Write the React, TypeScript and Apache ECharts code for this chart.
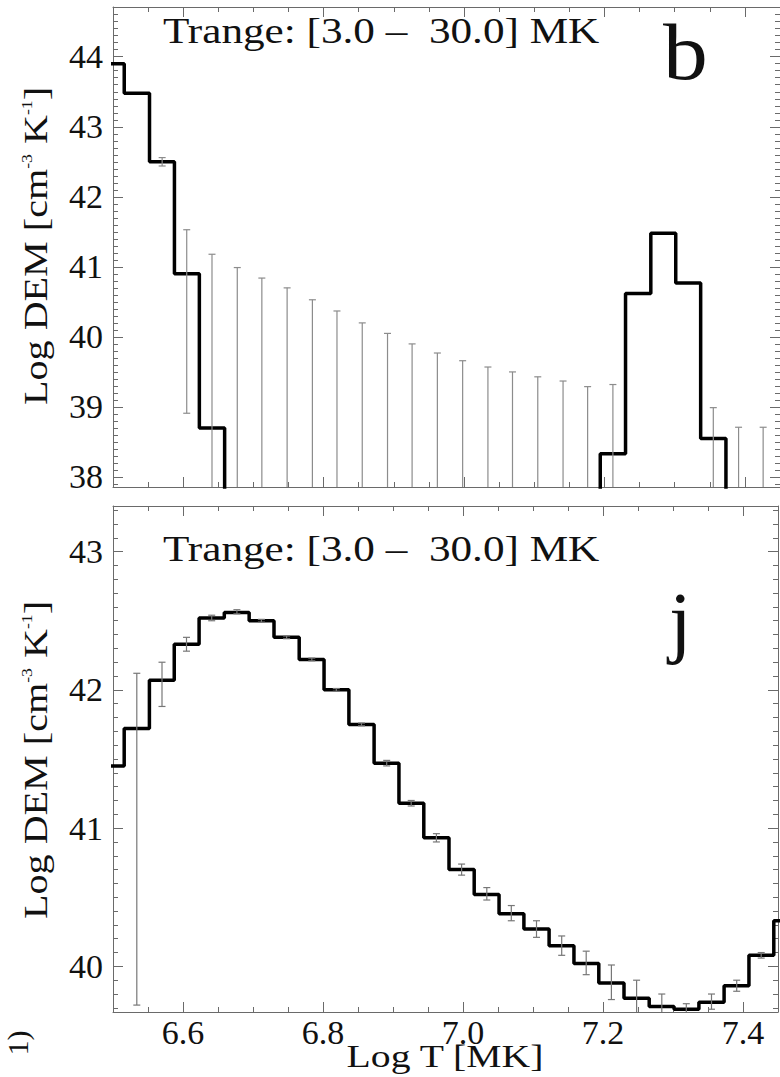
import React, { useEffect, useRef } from "react";
import * as echarts from "echarts";

// Bin centres in log T (shared by both panels)
const binCenters = [
  6.498, 6.534, 6.57, 6.605, 6.641, 6.677, 6.712, 6.748, 6.784, 6.819,
  6.855, 6.891, 6.926, 6.962, 6.998, 7.034, 7.069, 7.105, 7.141, 7.176,
  7.212, 7.248, 7.284, 7.319, 7.355, 7.391, 7.426, 7.462,
];

// Panel b : log DEM (values of 30 lie far below the plotted range)
const demB = [
  43.9, 43.48, 42.5, 40.9, 38.7, 30, 30, 30, 30, 30,
  30, 30, 30, 30, 30, 30, 30, 30, 30, 30,
  38.33, 40.62, 41.48, 40.77, 38.55, 30, 30, 30,
];
const errLowB = [
  null, null, 42.44, 38.91, 30, 30, 30, 30, 30, 30,
  30, 30, 30, 30, 30, 30, 30, 30, 30, 30,
  30, null, null, null, 30, 30, 30, null,
];
const errHighB = [
  null, null, 42.56, 41.53, 41.18, 40.99, 40.84, 40.7, 40.53, 40.37,
  40.2, 40.05, 39.9, 39.77, 39.66, 39.57, 39.5, 39.43, 39.37, 39.29,
  39.32, null, null, null, 38.99, 38.71, 38.71, null,
];

// Panel j : log DEM
const demJ = [
  41.45, 41.72, 42.07, 42.33, 42.52, 42.56, 42.5, 42.38, 42.22, 42.0,
  41.75, 41.47, 41.18, 40.93, 40.7, 40.52, 40.38, 40.27, 40.15, 40.02,
  39.88, 39.77, 39.71, 39.69, 39.74, 39.86, 40.08, 40.33,
];
const errLowJ = [
  null, 39.72, 41.88, 42.28, 42.5, 42.55, 42.49, 42.37, 42.21, 41.99,
  41.74, 41.45, 41.16, 40.9, 40.66, 40.48, 40.33, 40.21, 40.08, 39.94,
  39.76, 39.66, 39.64, 39.66, 39.69, 39.82, 40.06, null,
];
const errHighJ = [
  null, 42.12, 42.2, 42.38, 42.54, 42.58, 42.51, 42.39, 42.23, 42.01,
  41.76, 41.49, 41.2, 40.96, 40.74, 40.57, 40.44, 40.33, 40.22, 40.11,
  40.01, 39.9, 39.8, 39.73, 39.8, 39.9, 40.1, null,
];

const xRange = [6.5, 7.45];
const yRangeB = [37.857, 44.71];
const yRangeJ = [39.67, 43.33];

const titleText = "Trange: [3.0 \u2013 \u00a030.0] MK";
const yTitle = "Log DEM [cm{sup|-3} K{sup|-1}]";
const xTitle = "Log T [MK]";

const FONT = "Liberation Serif";

function stepPoints(centers: number[], vals: number[]) {
  const n = centers.length;
  const edges: number[] = [];
  edges.push(centers[0] - (centers[1] - centers[0]) / 2);
  for (let i = 1; i < n; i++) edges.push((centers[i - 1] + centers[i]) / 2);
  edges.push(centers[n - 1] + (centers[n - 1] - centers[n - 2]) / 2);
  const pts: number[][] = [];
  for (let i = 0; i < n; i++) pts.push([edges[i], vals[i]]);
  pts.push([edges[n], vals[n - 1]]);
  return pts;
}

function errPoints(centers: number[], lo: (number | null)[], hi: (number | null)[]) {
  const out: number[][] = [];
  for (let i = 0; i < centers.length; i++) {
    if (lo[i] != null && hi[i] != null) out.push([centers[i], lo[i] as number, hi[i] as number]);
  }
  return out;
}

function makeErrRender(color: string) {
  return (params: any, api: any) => {
    const x = api.value(0);
    const lo = api.value(1);
    const hi = api.value(2);
    const cs = params.coordSys;
    const pLo = api.coord([x, lo]);
    const pHi = api.coord([x, hi]);
    const top = cs.y;
    const bottom = cs.y + cs.height;
    const px = pLo[0];
    if (px < cs.x || px > cs.x + cs.width) return null;
    const y1 = Math.max(top, Math.min(bottom, pHi[1]));
    const y2 = Math.max(top, Math.min(bottom, pLo[1]));
    const cw = 3.5;
    const st = { stroke: color, lineWidth: 1.2 };
    const children: any[] = [
      { type: "line", shape: { x1: px, y1, x2: px, y2 }, style: st },
    ];
    if (pHi[1] >= top && pHi[1] <= bottom)
      children.push({ type: "line", shape: { x1: px - cw, y1: pHi[1], x2: px + cw, y2: pHi[1] }, style: st });
    if (pLo[1] >= top && pLo[1] <= bottom)
      children.push({ type: "line", shape: { x1: px - cw, y1: pLo[1], x2: px + cw, y2: pLo[1] }, style: st });
    return { type: "group", children };
  };
}

const axisColor = "#6a6a6a";

function xAxisCfg(gridIndex: number, position: string, showLabel: boolean) {
  return {
    type: "value",
    gridIndex,
    position,
    min: xRange[0],
    max: xRange[1],
    splitNumber: 5,
    axisLine: { show: true, onZero: false, lineStyle: { color: axisColor, width: 1 } },
    axisTick: { show: true, inside: true, length: 10, lineStyle: { color: axisColor, width: 1 } },
    minorTick: { show: true, splitNumber: 4, length: 5, lineStyle: { color: axisColor, width: 1 } },
    splitLine: { show: false },
    axisLabel: {
      show: showLabel,
      showMinLabel: false,
      showMaxLabel: false,
      fontFamily: FONT,
      fontSize: 34,
      color: "#111",
      margin: 3,
      formatter: (v: number) => v.toFixed(1),
    },
  };
}

function yAxisCfg(gridIndex: number, position: string, range: number[], splitNumber: number, showLabel: boolean) {
  return {
    type: "value",
    gridIndex,
    position,
    min: range[0],
    max: range[1],
    splitNumber,
    axisLine: { show: true, onZero: false, lineStyle: { color: axisColor, width: 1 } },
    axisTick: { show: true, inside: true, length: 10, lineStyle: { color: axisColor, width: 1 } },
    minorTick: { show: true, splitNumber: 10, length: 5, lineStyle: { color: axisColor, width: 1 } },
    splitLine: { show: false },
    axisLabel: {
      show: showLabel,
      showMinLabel: false,
      showMaxLabel: false,
      fontFamily: FONT,
      fontSize: 34,
      color: "#111",
      margin: 10,
    },
  };
}

function yTitleGraphic(cx: number, cy: number) {
  return {
    type: "text",
    x: cx,
    y: cy,
    rotation: Math.PI / 2,
    scaleX: 1.18,
    style: {
      text: yTitle,
      fontFamily: FONT,
      fontSize: 34,
      fill: "#111",
      align: "center",
      verticalAlign: "middle",
      rich: {
        sup: { fontFamily: FONT, fontSize: 15, fill: "#111", verticalAlign: "top", lineHeight: 15 },
      },
    },
  };
}

function titleGraphic(x: number, y: number) {
  return {
    type: "text",
    x,
    y,
    scaleX: 1.2,
    style: {
      text: titleText,
      fontFamily: FONT,
      fontSize: 36,
      fill: "#111",
      align: "left",
      verticalAlign: "middle",
    },
  };
}

export default function App() {
  const ref = useRef<HTMLDivElement>(null);
  useEffect(() => {
    document.body.style.margin = "0";
    if (!ref.current) return;
    const chart = echarts.init(ref.current, undefined, { renderer: "svg" });
    const option: any = {
      animation: false,
      backgroundColor: "#fff",
      grid: [
        { left: 113, top: 7, width: 669, height: 480 },
        { left: 113, top: 506, width: 665, height: 506 },
      ],
      xAxis: [
        xAxisCfg(0, "bottom", false),
        xAxisCfg(0, "top", false),
        xAxisCfg(1, "bottom", true),
        xAxisCfg(1, "top", false),
      ],
      yAxis: [
        yAxisCfg(0, "left", yRangeB, 7, true),
        yAxisCfg(0, "right", yRangeB, 7, false),
        yAxisCfg(1, "left", yRangeJ, 4, true),
        yAxisCfg(1, "right", yRangeJ, 4, false),
      ],
      series: [
        {
          type: "line",
          xAxisIndex: 0,
          yAxisIndex: 0,
          data: stepPoints(binCenters, demB),
          step: "end",
          showSymbol: false,
          clip: true,
          lineStyle: { color: "#000", width: 3.5 },
          z: 2,
        },
        {
          type: "custom",
          xAxisIndex: 0,
          yAxisIndex: 0,
          data: errPoints(binCenters, errLowB, errHighB),
          renderItem: makeErrRender("#8c8c8c"),
          encode: { x: 0, y: [1, 2] },
          z: 3,
        },
        {
          type: "line",
          xAxisIndex: 2,
          yAxisIndex: 2,
          data: stepPoints(binCenters, demJ),
          step: "end",
          showSymbol: false,
          clip: true,
          lineStyle: { color: "#000", width: 3.5 },
          z: 2,
        },
        {
          type: "custom",
          xAxisIndex: 2,
          yAxisIndex: 2,
          data: errPoints(binCenters, errLowJ, errHighJ),
          renderItem: makeErrRender("#777"),
          encode: { x: 0, y: [1, 2] },
          z: 3,
        },
      ],
      graphic: [
        titleGraphic(163, 31),
        titleGraphic(163, 549),
        yTitleGraphic(36, 246),
        yTitleGraphic(36, 760),
        {
          type: "text",
          x: 445,
          y: 1056,
          scaleX: 1.24,
          style: {
            text: xTitle,
            fontFamily: FONT,
            fontSize: 32,
            fill: "#111",
            align: "center",
            verticalAlign: "middle",
          },
        },
        {
          type: "text",
          x: 663,
          y: 12,
          scaleX: 1.12,
          style: { text: "b", fontFamily: FONT, fontSize: 80, fill: "#111", align: "left", verticalAlign: "top" },
        },
        {
          type: "text",
          x: 669,
          y: 580,
          style: { text: "j", fontFamily: FONT, fontSize: 81, fill: "#111", align: "left", verticalAlign: "top" },
        },
        {
          type: "text",
          x: 17,
          y: 1043,
          rotation: Math.PI / 2,
          style: { text: "1)", fontFamily: FONT, fontSize: 30, fill: "#111", align: "center", verticalAlign: "middle" },
        },
      ],
    };
    chart.setOption(option);
    return () => chart.dispose();
  }, []);
  return <div ref={ref} style={{ width: 780, height: 1077 }} />;
}
